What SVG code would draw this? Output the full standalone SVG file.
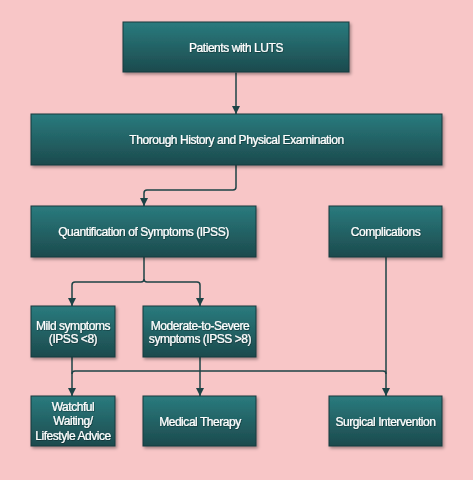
<svg xmlns="http://www.w3.org/2000/svg" width="473" height="480" viewBox="0 0 473 480">
<style>
.box{fill:url(#g);stroke:#163b3d;stroke-width:1;filter:url(#sh)}
.t{font-family:"Liberation Sans",Arial,sans-serif;font-size:12px;letter-spacing:-0.45px;fill:#ffffff;stroke:#ffffff;stroke-width:0.2;text-anchor:middle;filter:url(#ts)}
.c{fill:none;stroke:#1d4346;stroke-width:1.5}
</style>
<defs>
<linearGradient id="g" x1="0" y1="0" x2="0" y2="1">
<stop offset="0" stop-color="#2a7b7e"/>
<stop offset="1" stop-color="#1c4a4d"/>
</linearGradient>
<filter id="sh" x="-10%" y="-20%" width="130%" height="150%">
<feDropShadow dx="1.5" dy="2" stdDeviation="1.5" flood-color="#000" flood-opacity="0.35"/>
</filter>
<filter id="ts" x="-5%" y="-30%" width="110%" height="160%">
<feDropShadow dx="0.5" dy="0.6" stdDeviation="0.3" flood-color="#000" flood-opacity="0.5"/>
</filter>
<marker id="a" markerUnits="userSpaceOnUse" markerWidth="8" markerHeight="9" refX="8" refY="4" orient="auto" viewBox="0 0 8 8">
<path d="M0,0 L8,4 L0,8 z" fill="#1d4346"/>
</marker>
</defs>
<rect width="473" height="480" fill="#f8c6c7"/>
<g id="connectors">
<path class="c" d="M236 72.5 V114" marker-end="url(#a)"/>
<path class="c" d="M236 165 V187 Q236 190 233 190 H147 Q144 190 144 193 V206" marker-end="url(#a)"/>
<path class="c" d="M144 257 V279 Q144 282 141 282 H75 Q72 282 72 285 V306" marker-end="url(#a)"/>
<path class="c" d="M144 279 Q144 282 147 282 H197 Q200 282 200 285 V306" marker-end="url(#a)"/>
<path class="c" d="M72 357 V396" marker-end="url(#a)"/>
<path class="c" d="M200 357 V396" marker-end="url(#a)"/>
<path class="c" d="M386 257 V396" marker-end="url(#a)"/>
<path class="c" d="M72 374 Q72 371 75 371 H383 Q386 371 386 374"/>
</g>
<g id="n1"><rect class="box" x="123" y="22" width="226" height="50"/><text class="t" x="236" y="51.5">Patients with LUTS</text></g>
<g id="n2"><rect class="box" x="31" y="114" width="411" height="51"/><text class="t" x="236.5" y="144">Thorough History and Physical Examination</text></g>
<g id="n3"><rect class="box" x="31" y="206" width="225" height="51"/><text class="t" x="143.5" y="236">Quantification of Symptoms (IPSS)</text></g>
<g id="n4"><rect class="box" x="329" y="206" width="113" height="51"/><text class="t" x="385.5" y="236">Complications</text></g>
<g id="n5"><rect class="box" x="31" y="306" width="84" height="51"/><text class="t" x="73" y="329.5">Mild symptoms</text><text class="t" x="73" y="343">(IPSS &lt;8)</text></g>
<g id="n6"><rect class="box" x="143" y="306" width="113" height="51"/><text class="t" x="200" y="329.5">Moderate-to-Severe</text><text class="t" x="200" y="343">symptoms (IPSS &gt;8)</text></g>
<g id="n7"><rect class="box" x="31" y="396" width="84" height="50"/><text class="t" x="73" y="411">Watchful</text><text class="t" x="73" y="425.2">Waiting/</text><text class="t" x="73" y="439.5">Lifestyle Advice</text></g>
<g id="n8"><rect class="box" x="143" y="396" width="113" height="50"/><text class="t" x="200" y="425.5">Medical Therapy</text></g>
<g id="n9"><rect class="box" x="329" y="396" width="113" height="50"/><text class="t" x="385.5" y="425.5">Surgical Intervention</text></g>
</svg>
